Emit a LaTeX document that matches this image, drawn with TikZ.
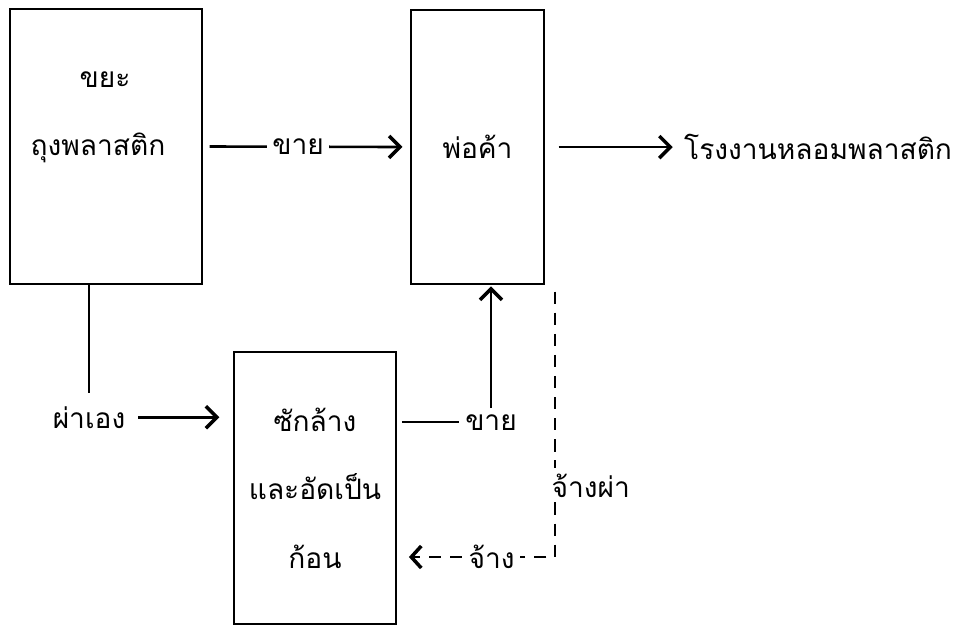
\documentclass[tikz,border=0pt]{standalone}
\usepackage{fontspec}
\newfontfamily\thaifont[Script=Thai]{Loma}
\usepackage{tikz}
\usetikzlibrary{arrows.meta}

\begin{document}
\begin{tikzpicture}[x=0.02cm, y=-0.02cm,
      font=\thaifont\fontsize{16}{19}\selectfont,
      box/.style={draw, line width=0.7pt, inner sep=0pt},
      flow/.style={line width=1.5pt, -{Straight Barb[length=2.2mm, width=4.4mm, line width=2pt]}},
      plain/.style={line width=1.1pt},
      hire/.style={line width=0.8pt, dash pattern=on 7pt off 5pt},
      lbl/.style={fill=white, inner sep=3pt}]
      \useasboundingbox (0,0) rectangle (966,627);
      \node[box, minimum width=3.84cm, minimum height=5.5cm] (waste) at (106,146.5) {};
      \node[box, minimum width=2.66cm, minimum height=5.48cm] (trader) at (477.5,147) {พ่อค้า};
      \node[box, minimum width=3.24cm, minimum height=5.44cm, align=center,
            font=\thaifont\fontsize{16}{39}\selectfont] (wash) at (315,488)
            {ซักล้าง\\และอัดเป็น\\ก้อน};
      \node[anchor=base] (wastetop) at (105,87) {ขยะ};
      \node[anchor=base] (wastebag) at (98,155) {ถุงพลาสติก};
      \node[anchor=west] (factory) at (678,147) {โรงงานหลอมพลาสติก};
      \node[anchor=base] (selfcut) at (89,428) {ผ่าเอง};
      \node[anchor=base] (sell) at (491,430) {ขาย};
      \coordinate (corner) at (555,557);
      \draw[flow, shorten <=4pt, shorten >=4.5pt] (waste.east) -- node[lbl, pos=.46] {ขาย} (trader.west);
      \draw[flow, shorten <=8pt, shorten >=3pt] (trader.east) -- (factory.west);
      \draw[plain, shorten >=4pt] (waste.south -| selfcut.north) -- (selfcut.north);
      \draw[flow, shorten <=4pt, shorten >=8pt] (selfcut.east) -- (selfcut.east -| wash.west);
      \draw[plain, shorten <=3pt] (wash.east |- sell) -- (sell.west);
      \draw[flow, shorten >=1pt] (sell.north) -- (sell.north |- trader.south);
      \draw[hire, shorten <=4pt, shorten >=7pt, -{Straight Barb[length=2mm, width=4.4mm, line width=2pt]}]
            (corner |- trader.south) -- (corner) -- node[lbl, pos=.4] {จ้าง} (corner -| wash.east);
      \node[lbl, anchor=base west] (hirecut) at (546,497) {จ้างผ่า};
\end{tikzpicture}
\end{document}
